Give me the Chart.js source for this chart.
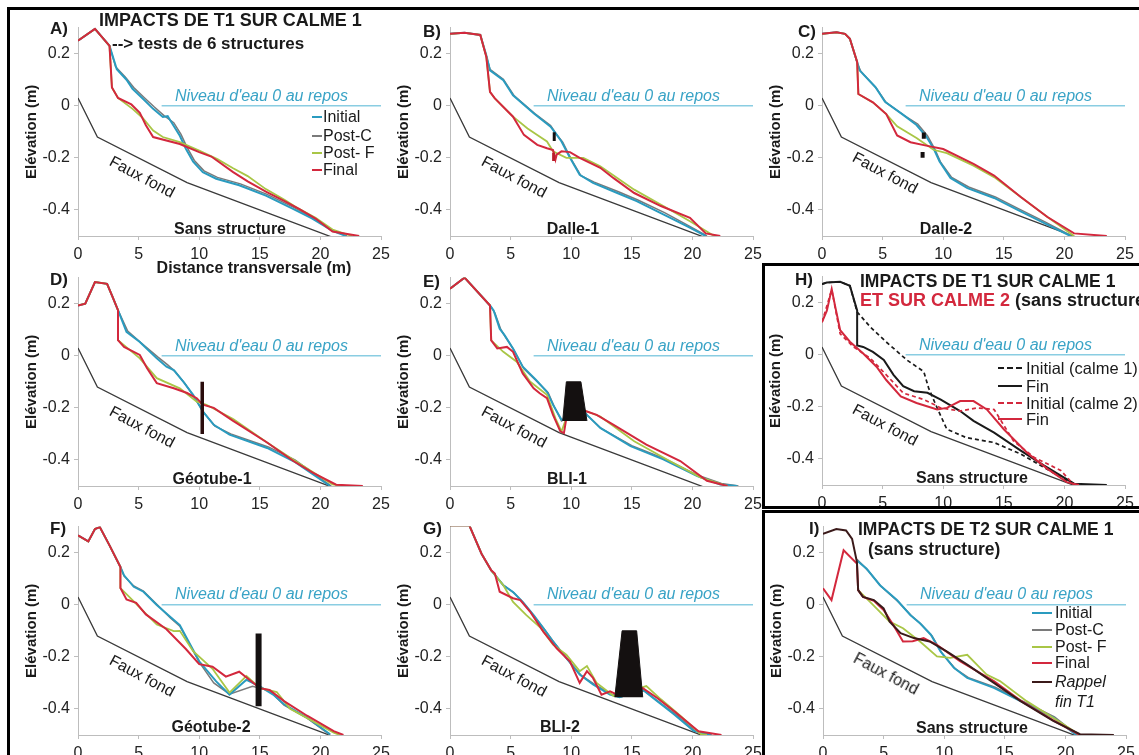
<!DOCTYPE html>
<html>
<head>
<meta charset="utf-8">
<script src="https://cdn.jsdelivr.net/npm/chart.js@4.4.0/dist/chart.umd.min.js"></script>
<style>
  body { margin: 0; background: #fff; font-family: "Liberation Sans", Arial, sans-serif; }
  #fig { position: relative; width: 1139px; height: 755px; overflow: hidden; background: #fff; }
  #fig canvas { position: absolute; z-index: 1; }
  .frame { position: absolute; z-index: 4; box-sizing: border-box; }
  .t { position: absolute; white-space: nowrap; line-height: 1; transform: translateY(-50%); z-index: 3; color: #1a1a1a; font-size: 16px; }
  .c { transform: translate(-50%, -50%); }
  .b { font-weight: bold; }
  .lbl { font-weight: bold; font-size: 17px; }
  .eau { color: #39a3c6; font-style: italic; }
  .ff { transform: translate(-50%, -50%) rotate(28deg); }
  .lg { position: absolute; z-index: 3; height: 0; }
</style>
</head>
<body>
<div id="fig">
  <div class="frame" style="left:7px;top:7px;width:1140px;height:760px;border-top:3px solid #000;border-left:3px solid #000"></div>
  <div class="frame" style="left:762px;top:263px;width:390px;height:246px;border:3px solid #000"></div>
  <div class="frame" style="left:762px;top:510px;width:390px;height:260px;border:3px solid #000"></div>

  <!-- panel letters -->
  <div class="t lbl" style="left:50px;top:28px">A)</div>
  <div class="t lbl" style="left:423px;top:31px">B)</div>
  <div class="t lbl" style="left:798px;top:31px">C)</div>
  <div class="t lbl" style="left:50px;top:279px">D)</div>
  <div class="t lbl" style="left:423px;top:281px">E)</div>
  <div class="t lbl" style="left:795px;top:279px">H)</div>
  <div class="t lbl" style="left:50px;top:528px">F)</div>
  <div class="t lbl" style="left:423px;top:528px">G)</div>
  <div class="t lbl" style="left:809px;top:528px">I)</div>

  <!-- titles -->
  <div class="t b" style="left:99px;top:20px;font-size:18px">IMPACTS DE T1 SUR CALME 1</div>
  <div class="t b" style="left:112px;top:43px;font-size:17px">--&gt; tests de 6 structures</div>
  <div class="t b" style="left:860px;top:282px;font-size:17.5px">IMPACTS DE T1 SUR CALME 1</div>
  <div class="t b" style="left:860px;top:300px;font-size:18px"><span style="color:#d3283d">ET SUR CALME 2</span> (sans structure)</div>
  <div class="t b" style="left:858px;top:530px;font-size:17.5px">IMPACTS DE T2 SUR CALME 1</div>
  <div class="t b" style="left:868px;top:550px;font-size:17.5px">(sans structure)</div>
  <div class="t b c" style="left:254px;top:268px">Distance transversale (m)</div>

  <!-- water level -->
  <div class="t eau" style="left:175px;top:96px">Niveau d'eau 0 au repos</div>
  <div class="t eau" style="left:547px;top:96px">Niveau d'eau 0 au repos</div>
  <div class="t eau" style="left:919px;top:96px">Niveau d'eau 0 au repos</div>
  <div class="t eau" style="left:175px;top:346px">Niveau d'eau 0 au repos</div>
  <div class="t eau" style="left:547px;top:346px">Niveau d'eau 0 au repos</div>
  <div class="t eau" style="left:919px;top:345px">Niveau d'eau 0 au repos</div>
  <div class="t eau" style="left:175px;top:594px">Niveau d'eau 0 au repos</div>
  <div class="t eau" style="left:547px;top:594px">Niveau d'eau 0 au repos</div>
  <div class="t eau" style="left:920px;top:594px">Niveau d'eau 0 au repos</div>

  <!-- faux fond -->
  <div class="t ff" style="left:142px;top:177px">Faux fond</div>
  <div class="t ff" style="left:514px;top:177px">Faux fond</div>
  <div class="t ff" style="left:885px;top:173px">Faux fond</div>
  <div class="t ff" style="left:142px;top:427px">Faux fond</div>
  <div class="t ff" style="left:514px;top:427px">Faux fond</div>
  <div class="t ff" style="left:885px;top:425px">Faux fond</div>
  <div class="t ff" style="left:142px;top:676px">Faux fond</div>
  <div class="t ff" style="left:514px;top:676px">Faux fond</div>
  <div class="t ff" style="left:886px;top:674px">Faux fond</div>

  <!-- structure names -->
  <div class="t b c" style="left:230px;top:229px">Sans structure</div>
  <div class="t b c" style="left:573px;top:229px">Dalle-1</div>
  <div class="t b c" style="left:946px;top:229px">Dalle-2</div>
  <div class="t b c" style="left:212px;top:479px">Géotube-1</div>
  <div class="t b c" style="left:567px;top:479px">BLI-1</div>
  <div class="t b c" style="left:972px;top:478px">Sans structure</div>
  <div class="t b c" style="left:211px;top:727px">Géotube-2</div>
  <div class="t b c" style="left:560px;top:727px">BLI-2</div>
  <div class="t b c" style="left:972px;top:728px">Sans structure</div>

  <!-- legend A -->
  <div class="lg" style="left:312px;top:116px;width:10px;border-top:2px solid #2a9bbf"></div>
  <div class="lg" style="left:312px;top:135px;width:10px;border-top:2px solid #7a7a7a"></div>
  <div class="lg" style="left:312px;top:152px;width:10px;border-top:2px solid #a9c646"></div>
  <div class="lg" style="left:312px;top:169px;width:10px;border-top:2px solid #d3283d"></div>
  <div class="t" style="left:323px;top:117px">Initial</div>
  <div class="t" style="left:323px;top:136px">Post-C</div>
  <div class="t" style="left:323px;top:153px">Post- F</div>
  <div class="t" style="left:323px;top:170px">Final</div>

  <!-- legend H -->
  <div class="lg" style="left:998px;top:367px;width:24px;border-top:2px dashed #1a1a1a"></div>
  <div class="lg" style="left:998px;top:385px;width:24px;border-top:2px solid #1a1a1a"></div>
  <div class="lg" style="left:998px;top:402px;width:24px;border-top:2px dashed #d3283d"></div>
  <div class="lg" style="left:998px;top:418px;width:24px;border-top:2px solid #d3283d"></div>
  <div class="t" style="left:1026px;top:368px;font-size:16.5px">Initial (calme 1)</div>
  <div class="t" style="left:1026px;top:386px;font-size:16.5px">Fin</div>
  <div class="t" style="left:1026px;top:403px;font-size:16.5px">Initial (calme 2)</div>
  <div class="t" style="left:1026px;top:419px;font-size:16.5px">Fin</div>

  <!-- legend I -->
  <div class="lg" style="left:1032px;top:612px;width:20px;border-top:2px solid #2a9bbf"></div>
  <div class="lg" style="left:1032px;top:629px;width:20px;border-top:2px solid #7a7a7a"></div>
  <div class="lg" style="left:1032px;top:646px;width:20px;border-top:2px solid #a9c646"></div>
  <div class="lg" style="left:1032px;top:662px;width:20px;border-top:2px solid #d3283d"></div>
  <div class="lg" style="left:1032px;top:681px;width:20px;border-top:2px solid #3b1a1a"></div>
  <div class="t" style="left:1055px;top:613px">Initial</div>
  <div class="t" style="left:1055px;top:630px">Post-C</div>
  <div class="t" style="left:1055px;top:647px">Post- F</div>
  <div class="t" style="left:1055px;top:663px">Final</div>
  <div class="t" style="left:1055px;top:682px;font-style:italic">Rappel</div>
  <div class="t" style="left:1055px;top:702px;font-style:italic">fin T1</div>
</div>

<script>
// axis ticks
const X_TICKS = [0, 5, 10, 15, 20, 25];
const Y_TICKS = [-0.4, -0.2, 0, 0.2];

// shared lines: false bottom and still water level
const FAUX_FOND = [[0, 0.03], [1.6, -0.12], [9, -0.295], [21, -0.505]];
const WATER = [[6.9, 0], [25, 0]];

// A) sans structure
const A_INIT = [[0,0.25],[1.4,0.295],[2.6,0.23],[3.2,0.14],[4.0,0.10],[4.5,0.065],[5.4,0.025],[6.2,-0.012],[7.0,-0.043],[7.4,-0.04],[7.8,-0.07],[8.4,-0.115],[8.9,-0.165],[9.5,-0.215],[10.3,-0.255],[11.4,-0.28],[13.3,-0.305],[15.5,-0.345],[17.7,-0.395],[19.3,-0.432],[21,-0.48],[22.1,-0.5]];
const A_POSTC = [[0,0.25],[1.4,0.295],[2.6,0.23],[3.1,0.15],[3.9,0.11],[4.6,0.07],[5.5,0.03],[6.3,-0.005],[7.1,-0.038],[7.9,-0.065],[8.5,-0.11],[9.0,-0.16],[9.6,-0.21],[10.4,-0.25],[11.5,-0.275],[13.4,-0.3],[15.6,-0.34],[17.8,-0.39],[19.4,-0.43],[21,-0.478],[22.2,-0.5]];
const A_POSTF = [[0,0.25],[1.4,0.295],[2.6,0.23],[2.8,0.07],[3.3,0.03],[4.5,-0.012],[5.3,-0.045],[6.2,-0.095],[7.0,-0.12],[8.4,-0.14],[10,-0.172],[11.5,-0.205],[12.8,-0.24],[14,-0.27],[15.5,-0.32],[17,-0.36],[18.2,-0.395],[19.6,-0.43],[21,-0.475],[22.6,-0.5]];
const A_FINAL = [[0,0.25],[1.4,0.295],[2.6,0.23],[2.8,0.07],[3.3,0.03],[4.4,0.005],[5.1,-0.027],[5.6,-0.075],[6.2,-0.12],[8.4,-0.147],[10,-0.178],[11,-0.195],[12.8,-0.255],[14,-0.29],[15.5,-0.33],[17,-0.365],[18.2,-0.395],[19.6,-0.433],[21,-0.483],[23.2,-0.5]];

// B) Dalle-1
const B_INIT = [[0,0.276],[1.2,0.28],[2.5,0.272],[3.0,0.193],[3.3,0.136],[4.4,0.098],[5.2,0.04],[6.9,-0.029],[8.3,-0.08],[8.7,-0.105],[9.2,-0.137],[9.9,-0.2],[10.7,-0.265],[11.8,-0.296],[13.8,-0.335],[15.4,-0.366],[17.6,-0.417],[19.5,-0.461],[21.1,-0.5]];
const B_POSTC = [[0,0.276],[1.2,0.28],[2.5,0.272],[3.0,0.19],[3.3,0.14],[4.4,0.102],[5.3,0.038],[7.0,-0.03],[8.3,-0.076],[8.8,-0.11],[9.3,-0.14],[10.0,-0.205],[10.8,-0.268],[11.9,-0.293],[13.9,-0.33],[15.5,-0.362],[17.7,-0.41],[19.6,-0.458],[21.2,-0.5]];
const B_POSTF = [[0,0.276],[1.2,0.28],[2.5,0.272],[3.0,0.187],[3.3,0.053],[3.7,0.028],[5.2,-0.042],[6.4,-0.087],[7.2,-0.112],[8.0,-0.137],[8.5,-0.175],[9.6,-0.2],[11,-0.2],[12.4,-0.232],[15.2,-0.322],[17.6,-0.385],[19.8,-0.443],[21.8,-0.5]];
const B_FINAL = [[0,0.276],[1.2,0.28],[2.5,0.272],[3.0,0.187],[3.3,0.053],[3.7,0.028],[5.2,-0.042],[6.1,-0.112],[7.2,-0.15],[8.0,-0.163],[8.5,-0.17],[8.7,-0.207],[8.8,-0.188],[9.2,-0.175],[9.9,-0.178],[10.7,-0.2],[12.4,-0.238],[13.5,-0.278],[15.2,-0.335],[17.4,-0.385],[19.8,-0.43],[21.1,-0.49],[22.3,-0.5]];
const B_DALLE_TOP = [[8.6,-0.102],[8.6,-0.135]];
const B_DALLE_BOT = [[8.55,-0.18],[8.55,-0.212]];

// C) Dalle-2
const C_INIT = [[0,0.276],[1.2,0.282],[1.9,0.276],[2.3,0.257],[2.9,0.168],[3.1,0.136],[4.4,0.072],[5.2,0.015],[6.7,-0.035],[7.8,-0.074],[8.6,-0.118],[9.2,-0.163],[9.7,-0.214],[10.6,-0.277],[12,-0.316],[14.2,-0.354],[16.1,-0.399],[18.3,-0.45],[20.5,-0.5]];
const C_POSTC = [[0,0.276],[1.2,0.282],[1.9,0.276],[2.3,0.257],[2.9,0.165],[3.2,0.132],[4.5,0.066],[5.3,0.012],[6.8,-0.038],[7.9,-0.07],[8.7,-0.115],[9.3,-0.165],[9.8,-0.218],[10.7,-0.275],[12.1,-0.312],[14.3,-0.35],[16.2,-0.395],[18.4,-0.446],[20.6,-0.5]];
const C_POSTF = [[0,0.276],[1.2,0.282],[1.9,0.276],[2.3,0.257],[2.9,0.168],[3.0,0.045],[4.2,0.013],[5.3,-0.032],[6.2,-0.079],[7.8,-0.124],[9.2,-0.169],[10.3,-0.182],[12.5,-0.23],[14.2,-0.274],[16.4,-0.35],[18.6,-0.427],[20.8,-0.5]];
const C_FINAL = [[0,0.276],[1.2,0.282],[1.9,0.276],[2.3,0.257],[2.9,0.168],[3.0,0.045],[4.2,0.013],[5.3,-0.032],[6.2,-0.114],[7.3,-0.14],[8.6,-0.153],[10.0,-0.166],[12.5,-0.223],[14.2,-0.268],[16.4,-0.35],[18.6,-0.427],[20.8,-0.49],[23.5,-0.5]];
const C_DALLE_TOP = [[8.4,-0.103],[8.4,-0.127]];
const C_DALLE_BOT = [[8.3,-0.178],[8.3,-0.2]];

// D) Géotube-1
const D_INIT = [[0,0.193],[0.6,0.2],[1.4,0.283],[2.4,0.276],[2.8,0.232],[3.3,0.175],[4.0,0.092],[5.1,0.053],[6.5,-0.01],[7.3,-0.042],[7.9,-0.055],[8.7,-0.1],[9.5,-0.15],[10.3,-0.214],[11.2,-0.265],[12.5,-0.303],[15.6,-0.354],[17.8,-0.405],[20.8,-0.5]];
const D_POSTC = [[0,0.193],[0.6,0.2],[1.4,0.283],[2.4,0.276],[2.8,0.232],[3.3,0.175],[4.1,0.095],[5.2,0.05],[6.6,-0.005],[7.4,-0.035],[8.0,-0.06],[8.8,-0.105],[9.6,-0.16],[10.4,-0.22],[11.3,-0.27],[12.6,-0.3],[15.7,-0.35],[17.9,-0.4],[20.9,-0.5]];
const D_POSTF = [[0,0.193],[0.6,0.2],[1.4,0.283],[2.4,0.276],[2.8,0.232],[3.3,0.175],[3.3,0.06],[5.1,-0.01],[6.5,-0.086],[8.4,-0.125],[9.8,-0.176],[10.6,-0.188],[12.8,-0.243],[15.6,-0.333],[17.8,-0.4],[21,-0.494],[22,-0.5]];
const D_FINAL = [[0,0.193],[0.6,0.2],[1.4,0.283],[2.4,0.276],[2.8,0.232],[3.3,0.175],[3.3,0.06],[3.8,0.034],[5.1,0.003],[5.7,-0.048],[6.5,-0.105],[7.9,-0.125],[9.0,-0.143],[9.8,-0.163],[10.3,-0.188],[11.2,-0.2],[12.8,-0.25],[15.6,-0.333],[17.8,-0.405],[19.4,-0.45],[21.3,-0.495],[23.5,-0.5]];
const D_TUBE = [[10.25,-0.1],[10.25,-0.3]];

// E) BLI-1
const E_INIT = [[0,0.257],[1.2,0.3],[3.3,0.193],[3.6,0.174],[4.1,0.104],[4.5,0.079],[5.2,0.028],[6.0,-0.042],[7.1,-0.093],[8.0,-0.138],[8.5,-0.188],[9.2,-0.246],[9.6,-0.24],[11.0,-0.21],[11.3,-0.227],[12.4,-0.277],[14.9,-0.347],[17.6,-0.398],[20.4,-0.462],[22.3,-0.494],[23.7,-0.5]];
const E_POSTC = [[0,0.257],[1.2,0.3],[3.3,0.193],[3.7,0.165],[4.2,0.1],[4.6,0.07],[5.3,0.02],[6.1,-0.05],[7.2,-0.1],[8.1,-0.142],[8.6,-0.195],[9.2,-0.25],[9.6,-0.24],[11.0,-0.21],[11.4,-0.232],[12.5,-0.28],[15.0,-0.345],[17.7,-0.395],[20.5,-0.46],[22.4,-0.49],[23.8,-0.5]];
const E_POSTF = [[0,0.257],[1.2,0.3],[3.3,0.193],[3.4,0.059],[4.4,0.015],[5.5,-0.023],[6.6,-0.099],[8.0,-0.15],[8.7,-0.24],[9.2,-0.29],[9.6,-0.24],[11.0,-0.21],[11.3,-0.214],[12.4,-0.233],[15.2,-0.328],[17.9,-0.398],[20.7,-0.468],[22.9,-0.5]];
const E_FINAL = [[0,0.257],[1.2,0.3],[3.3,0.193],[3.4,0.059],[3.9,0.028],[4.7,0.034],[5.2,0.015],[6.0,-0.068],[6.9,-0.125],[7.4,-0.144],[8.0,-0.163],[8.5,-0.227],[9.1,-0.29],[9.4,-0.297],[9.6,-0.24],[11.0,-0.21],[11.3,-0.214],[12.1,-0.227],[13.5,-0.265],[16.2,-0.341],[19,-0.404],[21.2,-0.48],[22.9,-0.5]];
const E_BLI = [[9.3,-0.25],[9.6,-0.1],[10.8,-0.1],[11.3,-0.25]];

// F) Géotube-2
const F_INIT = [[0,0.266],[0.85,0.243],[1.4,0.291],[1.8,0.298],[2.6,0.228],[3.5,0.145],[3.8,0.113],[4.6,0.069],[5.4,0.05],[6.5,-0.001],[7.6,-0.046],[8.4,-0.078],[8.9,-0.122],[10,-0.217],[11.4,-0.294],[12.5,-0.345],[13.9,-0.288],[15.0,-0.313],[16.1,-0.345],[17.0,-0.382],[18.9,-0.433],[20.8,-0.497]];
const F_POSTC = [[0,0.266],[0.85,0.243],[1.4,0.291],[1.8,0.298],[2.6,0.228],[3.5,0.145],[3.8,0.11],[4.6,0.072],[5.4,0.052],[6.5,0.002],[7.6,-0.05],[8.4,-0.082],[8.9,-0.125],[10,-0.22],[11.2,-0.3],[12.5,-0.343],[14.4,-0.313],[15.8,-0.33],[17.0,-0.385],[18.9,-0.435],[20.8,-0.5]];
const F_POSTF = [[0,0.266],[0.85,0.243],[1.4,0.291],[1.8,0.298],[2.6,0.228],[3.5,0.145],[3.5,0.064],[4.6,0.013],[5.4,-0.025],[6.5,-0.076],[7.9,-0.101],[8.4,-0.1],[9.5,-0.178],[11.1,-0.246],[12.5,-0.337],[13.9,-0.273],[15,-0.319],[16.4,-0.335],[17.5,-0.399],[21.1,-0.491],[21.6,-0.5]];
const F_FINAL = [[0,0.266],[0.85,0.243],[1.4,0.291],[1.8,0.298],[2.6,0.228],[3.5,0.145],[3.5,0.064],[4.0,0.02],[4.8,0.007],[5.6,-0.037],[7.3,-0.094],[8.9,-0.17],[10.0,-0.228],[11.1,-0.238],[12.2,-0.276],[13.3,-0.257],[14.5,-0.301],[15.0,-0.32],[15.8,-0.327],[17.0,-0.37],[18.9,-0.426],[21.1,-0.485],[21.9,-0.5]];
const F_TUBE = [[14.9,-0.11],[14.9,-0.39]];

// G) BLI-2
const G_INIT = [[0,0.304],[1.6,0.304],[2.6,0.196],[3.4,0.132],[4.4,0.075],[5.2,0.049],[6.0,0.011],[6.9,-0.04],[7.7,-0.09],[8.5,-0.141],[9.6,-0.205],[10.7,-0.268],[11.8,-0.306],[13.2,-0.345],[14.0,-0.355],[15.9,-0.326],[17.1,-0.37],[18.5,-0.421],[20.1,-0.484],[21.5,-0.5]];
const G_POSTC = [[0,0.304],[1.6,0.304],[2.6,0.196],[3.4,0.132],[4.4,0.075],[5.3,0.045],[6.1,0.005],[7.0,-0.048],[7.8,-0.095],[8.6,-0.146],[9.7,-0.21],[10.8,-0.27],[11.9,-0.305],[13.3,-0.343],[14.0,-0.355],[16.0,-0.33],[17.2,-0.372],[18.6,-0.42],[20.2,-0.483],[21.6,-0.5]];
const G_POSTF = [[0,0.304],[1.6,0.304],[2.6,0.196],[3.4,0.132],[4.4,0.075],[5.2,0.011],[6.3,-0.04],[7.5,-0.09],[8.5,-0.153],[9.6,-0.192],[10.7,-0.255],[11.3,-0.235],[12.1,-0.3],[13.5,-0.35],[16.2,-0.312],[17.4,-0.363],[19,-0.426],[20.7,-0.497],[21.2,-0.5]];
const G_FINAL = [[0,0.304],[1.6,0.304],[2.6,0.196],[3.4,0.132],[3.7,0.12],[4.1,0.05],[5.2,0.025],[5.8,0.018],[6.6,-0.026],[7.7,-0.103],[8.8,-0.167],[9.9,-0.218],[10.7,-0.3],[11.3,-0.255],[11.8,-0.281],[12.5,-0.345],[13.2,-0.332],[13.8,-0.345],[15.9,-0.32],[17.1,-0.358],[18.5,-0.409],[20.5,-0.486],[22.4,-0.5]];
const G_BLI = [[13.6,-0.355],[14.2,-0.1],[15.4,-0.1],[15.9,-0.355]];

// H) T1 on calme 1 and calme 2
const H_INIT1 = [[0,0.271],[0.4,0.277],[1.5,0.28],[2.3,0.265],[2.9,0.164],[4.0,0.106],[5.3,0.049],[7.0,-0.02],[8.4,-0.065],[8.8,-0.128],[9.5,-0.204],[10.3,-0.286],[11.9,-0.318],[14.2,-0.337],[16.4,-0.381],[18.3,-0.432],[20.2,-0.483],[21.1,-0.5]];
const H_FIN1 = [[0,0.271],[0.4,0.277],[1.5,0.28],[2.3,0.265],[2.9,0.17],[2.9,0.036],[3.4,0.03],[4.2,0.011],[5.1,-0.02],[5.9,-0.077],[6.7,-0.121],[7.6,-0.14],[8.7,-0.146],[9.8,-0.172],[11.4,-0.216],[12.5,-0.254],[14.2,-0.299],[16.4,-0.368],[18.3,-0.425],[20.8,-0.495],[23.5,-0.5]];
const H_INIT2 = [[0,0.125],[0.8,0.25],[1.5,0.08],[2.6,0.03],[4.0,-0.014],[5.3,-0.077],[6.7,-0.147],[8.4,-0.172],[9.8,-0.204],[11.4,-0.216],[12.8,-0.204],[14.2,-0.21],[15.8,-0.331],[17.5,-0.394],[19.7,-0.444],[20.8,-0.5]];
const H_FIN2 = [[0,0.125],[0.4,0.169],[0.8,0.252],[1.1,0.183],[1.5,0.094],[2.3,0.05],[3.4,0.005],[4.5,-0.046],[5.3,-0.097],[6.5,-0.16],[7.8,-0.185],[9.5,-0.21],[10.3,-0.204],[11.4,-0.178],[12.5,-0.178],[13.6,-0.21],[15.0,-0.286],[16.9,-0.375],[18.6,-0.438],[20.2,-0.489],[21.2,-0.5]];

// I) T2 on calme 1
const I_INIT = [[2.8,0.17],[3.6,0.138],[4.7,0.075],[6.1,0.018],[7.2,-0.039],[8.0,-0.071],[8.9,-0.115],[9.7,-0.179],[10.8,-0.242],[11.9,-0.281],[14.1,-0.319],[16.3,-0.37],[19.0,-0.433],[20.9,-0.5]];
const I_POSTC = [[2.8,0.175],[3.7,0.132],[4.8,0.07],[6.2,0.012],[7.3,-0.042],[8.1,-0.075],[9.0,-0.12],[9.8,-0.185],[10.9,-0.245],[12.0,-0.28],[14.2,-0.316],[16.4,-0.368],[19.1,-0.43],[21.0,-0.5]];
const I_POSTF = [[2.9,0.056],[3.9,0.01],[5.5,-0.065],[6.6,-0.09],[8.0,-0.141],[9.4,-0.198],[10.5,-0.204],[11.9,-0.192],[13.5,-0.268],[14.6,-0.293],[16.8,-0.37],[19.6,-0.452],[21.2,-0.5]];
const I_FINAL = [[0,0.063],[0.7,0.018],[1.7,0.209],[2.8,0.158],[2.9,0.056],[3.3,0.03],[4.2,0.015],[5.0,-0.02],[5.8,-0.078],[6.6,-0.141],[7.4,-0.14],[8.3,-0.128],[9.4,-0.154],[11.3,-0.217],[14.1,-0.293],[16.3,-0.368],[19.0,-0.444],[21.2,-0.5]];
const I_RAPPEL = [[0,0.272],[1.1,0.291],[1.9,0.285],[2.4,0.253],[2.8,0.164],[2.9,0.056],[3.3,0.03],[4.2,0.018],[5.0,-0.014],[5.5,-0.065],[6.4,-0.109],[7.5,-0.128],[8.8,-0.141],[10.2,-0.179],[11.9,-0.23],[14.1,-0.3],[16.3,-0.37],[19.0,-0.446],[21.2,-0.497],[24.0,-0.5]];

const COL = { init: '#2a9bbf', postc: '#7a7a7a', postf: '#a9c646', final: '#d3283d',
              faux: '#3a3a3a', water: '#8acde2', struct: '#141010', t1: '#1a1a1a', rappel: '#3b1a1a' };

Chart.defaults.font.family = '"Liberation Sans", Arial, sans-serif';
Chart.defaults.color = '#1a1a1a';

function line(pts, color, width, extra) {
  return Object.assign({
    data: pts.map(p => ({ x: p[0], y: p[1] })),
    borderColor: color, backgroundColor: color, borderWidth: width || 1.8,
    pointRadius: 0, tension: 0, fill: false
  }, extra || {});
}

// profiles drawn under the structures; first dataset ends up on top
function profiles(init, postc, postf, fin) {
  return [
    line(fin, COL.final, 2),
    line(postf, COL.postf, 1.8),
    line(init, COL.init, 2),
    line(postc, COL.postc, 1.5),
    line(FAUX_FOND, COL.faux, 1.3),
    line(WATER, COL.water, 1.5)
  ];
}

const fig = document.getElementById('fig');

function panel(x0, top, datasets) {
  const cv = document.createElement('canvas');
  cv.width = 376; cv.height = 254;
  cv.style.left = (x0 - 59) + 'px';
  cv.style.top = (top - 12) + 'px';
  fig.appendChild(cv);
  new Chart(cv, {
    type: 'line',
    data: { datasets: datasets },
    options: {
      responsive: false,
      animation: false,
      layout: { padding: { top: 12, right: 14, left: 0, bottom: 0 } },
      plugins: { legend: { display: false }, tooltip: { enabled: false } },
      scales: {
        x: {
          type: 'linear', min: 0, max: 25,
          afterBuildTicks: s => { s.ticks = X_TICKS.map(v => ({ value: v })); },
          afterFit: s => { s.height = 32; },
          ticks: { font: { size: 16 }, padding: 5, maxRotation: 0, color: '#222' },
          grid: { drawOnChartArea: false, tickLength: 4, color: '#bdbdbd' },
          border: { color: '#bdbdbd' }
        },
        y: {
          min: -0.5, max: 0.3,
          afterBuildTicks: s => { s.ticks = Y_TICKS.map(v => ({ value: v })); },
          afterFit: s => { s.width = 59; },
          ticks: { font: { size: 16 }, padding: 4, color: '#222',
                   callback: v => String(Math.round(v * 10) / 10) },
          grid: { drawOnChartArea: false, tickLength: 4, color: '#bdbdbd' },
          border: { color: '#bdbdbd' },
          title: { display: true, text: 'Elévation (m)', font: { size: 15, weight: 'bold' },
                   color: '#1a1a1a', padding: { top: 4, bottom: 0 } }
        }
      }
    }
  });
}

panel(78, 26, profiles(A_INIT, A_POSTC, A_POSTF, A_FINAL));
panel(450, 26, [
  line(B_DALLE_TOP, COL.struct, 3),
  line(B_DALLE_BOT, '#b81e2a', 3)
].concat(profiles(B_INIT, B_POSTC, B_POSTF, B_FINAL)));
panel(822, 26, [
  line(C_DALLE_TOP, COL.struct, 4),
  line(C_DALLE_BOT, COL.struct, 4)
].concat(profiles(C_INIT, C_POSTC, C_POSTF, C_FINAL)));
panel(78, 276, [
  line(D_TUBE, '#2a0c0c', 3.5)
].concat(profiles(D_INIT, D_POSTC, D_POSTF, D_FINAL)));
panel(450, 276, [
  line(E_BLI, COL.struct, 1, { fill: { value: -0.25 }, backgroundColor: COL.struct })
].concat(profiles(E_INIT, E_POSTC, E_POSTF, E_FINAL)));
panel(822, 275, [
  line(H_FIN2, COL.final, 2),
  line(H_INIT2, COL.final, 1.7, { borderDash: [4, 3] }),
  line(H_FIN1, COL.t1, 2),
  line(H_INIT1, COL.t1, 1.7, { borderDash: [4, 3] }),
  line(FAUX_FOND, COL.faux, 1.3),
  line(WATER, COL.water, 1.5)
]);
panel(78, 525, [
  line(F_TUBE, COL.struct, 6)
].concat(profiles(F_INIT, F_POSTC, F_POSTF, F_FINAL)));
panel(450, 525, [
  line(G_BLI, COL.struct, 1, { fill: { value: -0.355 }, backgroundColor: COL.struct })
].concat(profiles(G_INIT, G_POSTC, G_POSTF, G_FINAL)));
panel(823, 525, [
  line(I_RAPPEL, COL.rappel, 2),
  line(I_FINAL, COL.final, 2),
  line(I_POSTF, COL.postf, 1.8),
  line(I_INIT, COL.init, 2),
  line(I_POSTC, COL.postc, 1.5),
  line(FAUX_FOND, COL.faux, 1.3),
  line(WATER, COL.water, 1.5)
]);
</script>
</body>
</html>
